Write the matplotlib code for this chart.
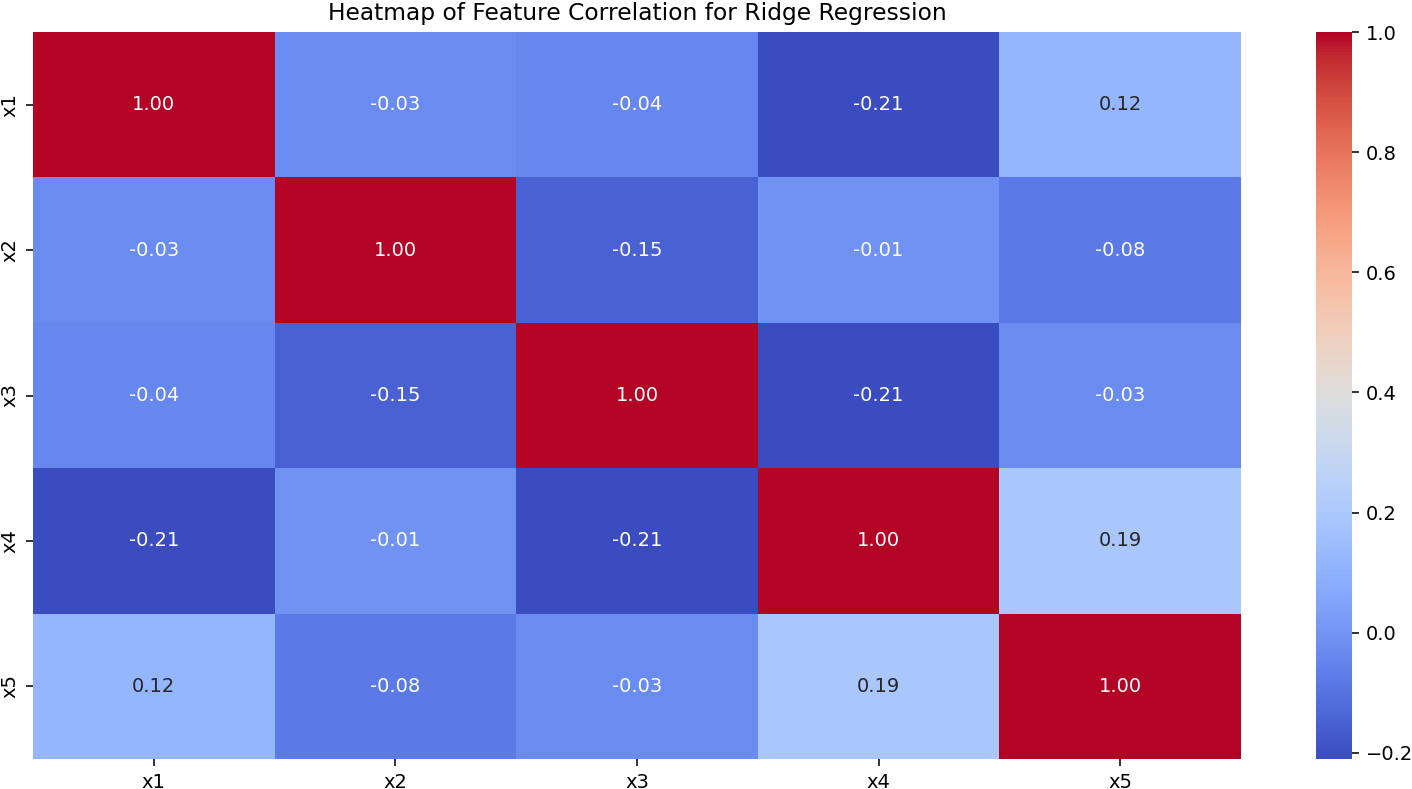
# Heatmap of feature correlation (ridge regression features)
import matplotlib
matplotlib.use('Agg')
import matplotlib.pyplot as plt
import seaborn as sns
import numpy as np
import pandas as pd

features = ['x1', 'x2', 'x3', 'x4', 'x5']
corr_values = [
    [1.00, -0.03, -0.04, -0.21, 0.12],
    [-0.03, 1.00, -0.15, -0.01, -0.08],
    [-0.04, -0.15, 1.00, -0.21, -0.03],
    [-0.21, -0.01, -0.21, 1.00, 0.19],
    [0.12, -0.08, -0.03, 0.19, 1.00],
]
corr = pd.DataFrame(np.array(corr_values), index=features, columns=features)

W, H = 1412, 789
dpi = 140
fig = plt.figure(figsize=(W / dpi, H / dpi), dpi=dpi)
ax = fig.add_axes([33 / W, 1 - 759 / H, (1241 - 33) / W, (759 - 32) / H])
cax = fig.add_axes([1316 / W, 1 - 759 / H, 36 / W, (759 - 32) / H])

sns.heatmap(corr, annot=True, fmt='.2f', cmap='coolwarm', ax=ax, cbar_ax=cax)
ax.set_title('Heatmap of Feature Correlation for Ridge Regression')

fig.savefig('out.png', dpi=dpi)
plt.close(fig)
